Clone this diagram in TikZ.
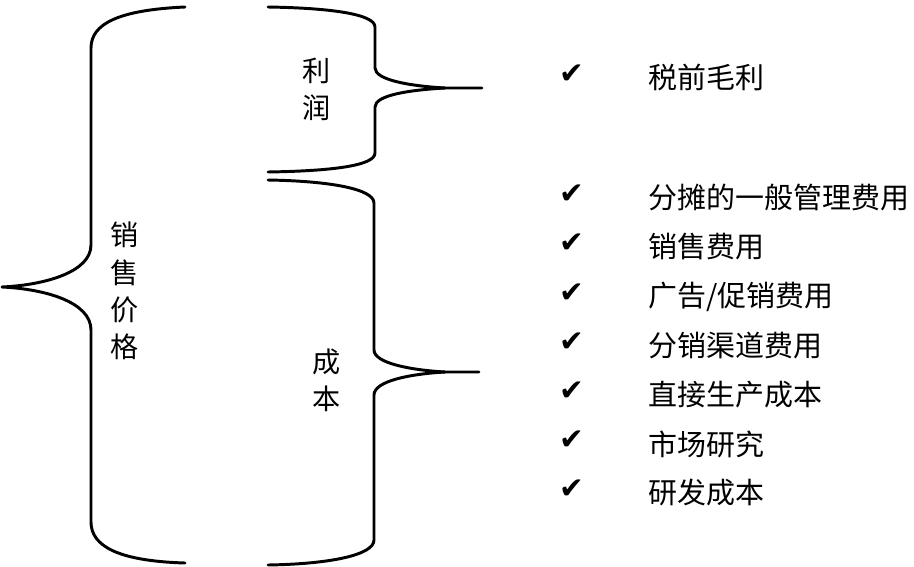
\documentclass[tikz,border=0pt]{standalone}
\usepackage{fontspec}
\setmainfont{Liberation Serif}
\newfontfamily\cjk{Noto Sans CJK SC}
\newfontfamily\symb{DejaVu Sans}
\usetikzlibrary{positioning}

\begin{document}
\begin{tikzpicture}[
  x=0.025cm, y=-0.025cm,
  brc/.style={line width=2.1pt, line cap=round, line join=round},
  vtxt/.style={font=\cjk\fontsize{20}{26.5}\selectfont, align=center, inner sep=0pt},
  chk/.style={font=\symb\fontsize{21}{21}\selectfont, inner sep=0pt},
  item/.style={font=\cjk\fontsize{20.6}{20.6}\selectfont, anchor=west, inner sep=0pt},
]
\useasboundingbox (0,0) rectangle (914,566);

% Selling price brace
\draw[brc] (185,7) .. controls (118,10) and (91,24) .. (91,48) -- (91,245)
  .. controls (91,272) and (45,285) .. (2,287)
  .. controls (45,289) and (91,302) .. (91,330) -- (91,522)
  .. controls (91,546) and (118,561) .. (185,563);
\node[vtxt] (price) at (125,291) {销\\售\\价\\格};

% Profit brace
\draw[brc] (268,7) .. controls (330,8) and (375,14) .. (375,27) -- (375,68)
  .. controls (375,80) and (410,86) .. (445,88) -- (482,88);
\draw[brc] (445,88) .. controls (410,90) and (375,95) .. (375,107) -- (375,153)
  .. controls (375,166) and (330,171) .. (268,172);
\node[vtxt] (profit) at (317,89) {利\\润};

% Cost brace
\draw[brc] (268,180) .. controls (330,181) and (374,189) .. (374,203) -- (374,350)
  .. controls (374,363) and (410,370) .. (445,372) -- (479,372);
\draw[brc] (445,372) .. controls (410,374) and (374,381) .. (374,395) -- (374,540)
  .. controls (374,555) and (330,564) .. (268,565);
\node[vtxt] (cost) at (327,380) {成\\本};

% Items
\node[chk] (c0) at (572,74) {✔};
\node[item] (t0) at (648,77) {税前毛利};
\foreach \i/\yy/\txt in {1/198/{分摊的一般管理费用}, 2/247/{销售费用}, 3/297/{广告/促销费用},
    4/346/{分销渠道费用}, 5/395/{直接生产成本}, 6/444/{市场研究}, 7/493/{研发成本}} {
  \node[chk] (c\i) at (572,\yy-4) {✔};
  \node[item] (t\i) at (648,\yy) {\txt};
}
\end{tikzpicture}
\end{document}
